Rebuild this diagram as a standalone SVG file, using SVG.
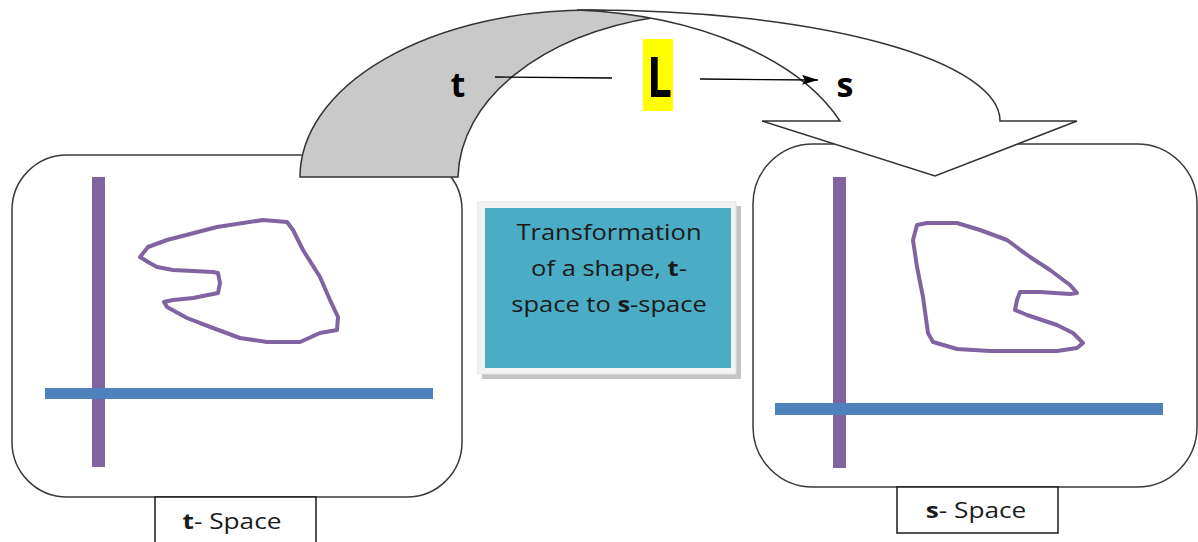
<svg xmlns="http://www.w3.org/2000/svg" width="1198" height="542" viewBox="0 0 1198 542">
  <defs>
    <style>
      .box { fill: #ffffff; stroke: #3a3a3a; stroke-width: 1.5; }
      .lbl { fill: #ffffff; stroke: #1a1a1a; stroke-width: 1.5; }
      .vaxis { fill: #8064a2; }
      .haxis { fill: #4f81bd; }
      .shape { fill: none; stroke: #8064a2; stroke-width: 4; stroke-linejoin: round; stroke-linecap: round; }
      .band { stroke: #333333; stroke-width: 1.5; stroke-linejoin: miter; }
      .txt { font-family: "Open Sans", "Liberation Sans", sans-serif; fill: #1a1a1a; }
      .big { font-family: "Open Sans", "Liberation Sans", sans-serif; font-weight: bold; fill: #000000; }
      .conn { stroke: #000000; stroke-width: 1.3; fill: none; }
    </style>
    <marker id="arrow" markerUnits="userSpaceOnUse" markerWidth="16" markerHeight="12" refX="16" refY="6" orient="auto">
      <path d="M0,1 L16,6 L0,11 L3,6 Z" fill="#000000"/>
    </marker>
  </defs>

  <g id="t-space">
    <rect class="box" x="12" y="155" width="450" height="342" rx="55" ry="55"/>
    <rect class="vaxis" x="92" y="177" width="13" height="290"/>
    <rect class="haxis" x="45" y="388" width="388" height="11"/>
    <path class="shape" d="M140,257 L148,247 L167,240 L217,227 L263,220 L287,222 L293,230 L303,250 L320,277 L330,300 L338,317 L337,330 L320,333 L300,342 L267,342 L240,338 L213,328 L187,318 L167,307 L164,302 L173,300 L193,298 L218,293 L220,283 L218,273 L213,272 L173,270 L157,267 L148,262 Z"/>
  </g>

  <g id="s-space">
    <rect class="box" x="753" y="144" width="444" height="343" rx="60" ry="60"/>
    <rect class="vaxis" x="833" y="177" width="13" height="291"/>
    <rect class="haxis" x="775" y="403" width="388" height="12"/>
    <path class="shape" d="M917,225 L927,223 L957,223 L980,230 L1007,240 L1030,257 L1050,270 L1070,285 L1077,293 L1070,294 L1040,292 L1020,292 L1017,300 L1015,310 L1027,315 L1057,325 L1073,333 L1083,343 L1077,348 L1057,351 L990,351 L957,349 L933,342 L928,333 L923,297 L917,267 L913,240 Z"/>
  </g>

  <g id="t-label">
    <rect class="lbl" x="155" y="497" width="161" height="60"/>
    <text class="txt" transform="translate(232 0) scale(1.25 1)" x="0" y="529" font-size="21" text-anchor="middle"><tspan font-weight="bold">t</tspan>- Space</text>
  </g>

  <g id="s-label">
    <rect class="lbl" x="897" y="487" width="161" height="46"/>
    <text class="txt" transform="translate(976 0) scale(1.25 1)" x="0" y="518" font-size="21" text-anchor="middle"><tspan font-weight="bold">s</tspan>- Space</text>
  </g>

  <g id="transform-note">
    <rect x="482" y="206" width="259" height="173" fill="#c4c4c4"/>
    <rect x="478" y="202" width="258" height="172" fill="#f3f3f3" stroke="#e2e2e2" stroke-width="1"/>
    <rect x="485" y="208" width="246" height="160" fill="#4bacc6"/>
    <g class="txt" font-size="22" transform="translate(609 0) scale(1.16 1)">
      <text x="0" y="240" text-anchor="middle">Transformation</text>
      <text x="0" y="276" text-anchor="middle">of a shape, <tspan font-weight="bold">t</tspan>-</text>
      <text x="0" y="312" text-anchor="middle">space to <tspan font-weight="bold">s</tspan>-space</text>
    </g>
  </g>

  <g id="curved-arrow">
    <path class="band" fill="#c9c9c9" d="M300,177 A290,167 0 0 1 590,10 C620,11 645,14 657,17 C540,35 460,100 458,177 Z"/>
    <path class="band" fill="#ffffff" d="M577,10 L590,10 A410,111 0 0 1 1000,121 L1077,121 L935,176 L762,121 L840,121 C800,60 700,15 577,10 Z"/>
  </g>

  <g id="connectors">
    <line class="conn" x1="495" y1="77" x2="612" y2="78"/>
    <line class="conn" x1="700" y1="79" x2="818" y2="80" marker-end="url(#arrow)"/>
  </g>

  <g id="mapping-labels">
    <text class="big" x="458" y="97" font-size="34" text-anchor="middle">t</text>
    <rect x="643" y="39" width="30" height="72" fill="#ffff00"/>
    <text class="big" x="647" y="97" font-size="56" textLength="25" lengthAdjust="spacingAndGlyphs">L</text>
    <text class="big" x="845" y="97" font-size="34" text-anchor="middle">s</text>
  </g>
</svg>
